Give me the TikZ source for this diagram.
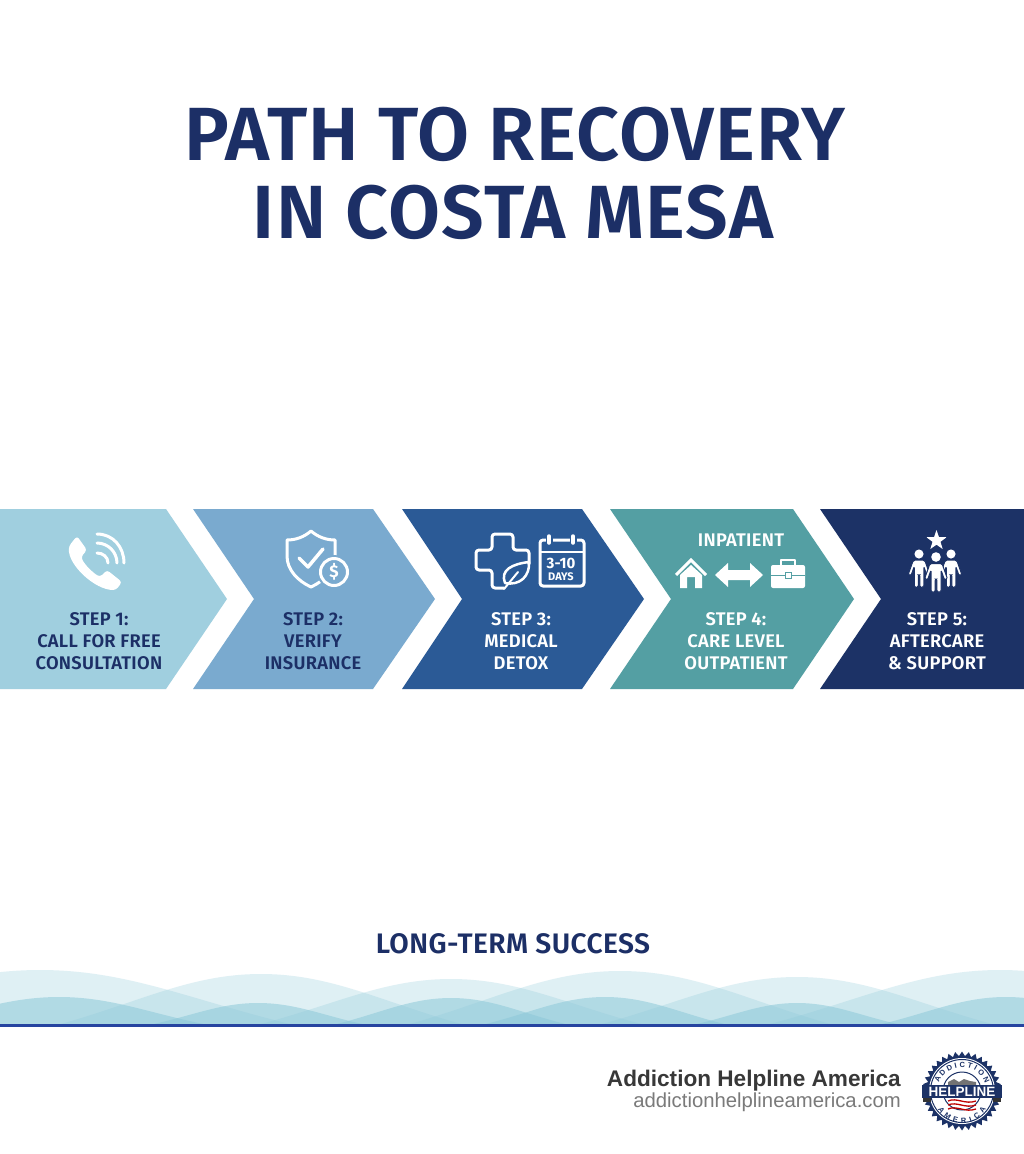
\documentclass[tikz,border=0pt]{standalone}
\usepackage{fontspec}
\setmainfont{Fira Sans}
\newfontfamily\semifont[LetterSpace=1.5]{Fira Sans SemiBold}
\newfontfamily\logofont{Liberation Sans}
\usetikzlibrary{decorations.text}
\definecolor{navy}{HTML}{1C2F66}
\definecolor{stepa}{HTML}{A0CFDF}
\definecolor{stepb}{HTML}{7AAACF}
\definecolor{stepc}{HTML}{2B5A96}
\definecolor{stepd}{HTML}{549FA3}
\definecolor{stepe}{HTML}{1C3266}
\definecolor{waveblue}{HTML}{8CC8D8}
\definecolor{rule}{HTML}{2644A0}
\begin{document}
\begin{tikzpicture}[x=1pt,y=-1pt]
    \tikzset{every node/.style={inner sep=0pt},
            steptext/.style={font=\semifont\fontsize{18.3}{22}\selectfont, align=center},
            icon/.style={draw=white, line width=3pt, line join=round, line cap=round},
            backwave/.style={fill=waveblue, fill opacity=0.27},
            frontwave/.style={fill=waveblue, fill opacity=0.55},
            person/.pic={
                \fill[draw=stepe, line width=1pt, rounded corners=1.5pt] (-6,6.5) -- (6,6.5) -- (11.5,22) -- (8.5,23) -- (5,13) -- (5,35) -- (0.8,35) -- (0.8,22) -- (-0.8,22) -- (-0.8,35) -- (-5,35) -- (-5,13) -- (-8.5,23) -- (-11.5,22) -- cycle;
                \fill (0,0) circle (4.8);
            }}
    \useasboundingbox (0,0) rectangle (1024,1154);
    \fill[white] (0,0) rectangle (1024,1154);

    % title
    \node[anchor=base, text=navy, font=\semifont\fontsize{75.4}{76}\selectfont] (title1) at (515,160) {PATH TO RECOVERY};
    \node[anchor=base, text=navy, font=\semifont\fontsize{75.4}{76}\selectfont] (title2) at (513,238) {IN COSTA MESA};

    % chevrons
    \fill[stepa] (0,509) -- (166,509) -- (227,599) -- (166,689) -- (0,689) -- cycle;
    \fill[stepb] (193,509) -- (373,509) -- (435,599) -- (373,689) -- (193,689) -- (254,599) -- cycle;
    \fill[stepc] (402,509) -- (582,509) -- (644,599) -- (582,689) -- (402,689) -- (462,599) -- cycle;
    \fill[stepd] (610,509) -- (793,509) -- (854,599) -- (793,689) -- (610,689) -- (671,599) -- cycle;
    \fill[stepe] (820,509) -- (1024,509) -- (1024,689) -- (820,689) -- (881,599) -- cycle;

    \node[steptext, text=navy] (step1) at (99,641) {STEP 1:\\CALL FOR FREE\\CONSULTATION};
    \node[steptext, text=navy] (step2) at (313,641) {STEP 2:\\VERIFY\\INSURANCE};
    \node[steptext, text=white] (step3) at (521,641) {STEP 3:\\MEDICAL\\DETOX};
    \node[steptext, text=white] (step4) at (736,641) {STEP 4:\\CARE LEVEL\\OUTPATIENT};
    \node[steptext, text=white] (step5) at (937,641) {STEP 5:\\AFTERCARE\\\& SUPPORT};

    % phone
    \fill[white, rounded corners=3pt] (77,536) -- (87,550) -- (81,557) .. controls (85,565) and (92,572) .. (100,577) -- (107,570) -- (122,582) -- (116,590) .. controls (95,590) and (68,565) .. (69,546) -- cycle;
    \draw[icon] (97,553) .. controls (103,553) and (108,557) .. (108,563);
    \draw[icon] (97,543) .. controls (108,543) and (117,552) .. (117,563);
    \draw[icon] (97,534) .. controls (113,534) and (124,547) .. (124,563);

    % shield
    \draw[icon] (311,531) .. controls (304,537) and (296,540) .. (287,540) -- (287,556) .. controls (287,570) and (298,581) .. (311,587) .. controls (324,581) and (335,570) .. (335,556) -- (335,540) .. controls (326,540) and (318,537) .. (311,531) -- cycle;
    \draw[icon, line width=3.5pt] (299,558) -- (308,567) -- (323,549);
    \fill[stepb] (334,572) circle (17);
    \draw[icon] (334,572) circle (13.5);
    \node[text=white, font=\fontsize{17}{17}\selectfont\bfseries] (coin) at (334,572) {\$};

    % cross and leaf
    \draw[icon, rounded corners=3pt] (504,588) -- (492,588) -- (492,570) -- (476,570) -- (476,550) -- (492,550) -- (492,534) -- (513,534) -- (513,550) -- (529,550) -- (529,564);
    \draw[icon, line width=2.5pt] (505,583) .. controls (500,570) and (512,564) .. (529,562) .. controls (530,576) and (520,586) .. (505,583) -- cycle;
    \draw[icon, line width=2pt] (504,589) -- (518,572);

    % calendar
    \draw[icon, line width=3pt, rounded corners=3pt] (540,540) rectangle (584,586);
    \draw[icon, line width=2pt] (540,552) -- (584,552);
    \draw[draw=stepc, line width=7pt, line cap=round] (549,536) -- (549,543) (573,536) -- (573,543);
    \draw[icon, line width=3.5pt] (549,536) -- (549,543) (573,536) -- (573,543);
    \node[text=white, font=\fontsize{15}{15}\selectfont\bfseries] (days1) at (561,563) {3-10};
    \node[text=white, font=\fontsize{11}{11}\selectfont\bfseries] (days2) at (561,577) {DAYS};

    % inpatient icons
    \node[text=white, font=\semifont\fontsize{18.3}{18.3}\selectfont] (inpatient) at (741,540) {INPATIENT};
    \draw[icon, line width=3pt, line cap=butt, line join=miter] (676,575) -- (691,560) -- (706,575);
    \fill[white] (680,575) -- (691,565) -- (702,575) -- (702,588) -- (695,588) -- (695,577) -- (687,577) -- (687,588) -- (680,588) -- cycle;
    \fill[white] (715,575) -- (728,563) -- (728,570) -- (750,570) -- (750,563) -- (763,575) -- (750,587) -- (750,580) -- (728,580) -- (728,587) -- cycle;
    \fill[white, rounded corners=2pt] (771,565) rectangle (805,588);
    \draw[icon, line width=2pt] (781,565) -- (781,560) -- (795,560) -- (795,565);
    \draw[draw=stepd, line width=1pt] (771,575) -- (785,575) (791,575) -- (805,575);
    \fill[white, draw=stepd, line width=1pt] (785,572) rectangle (791,578);

    % star and people
    \fill[white] (936.5,530) \foreach \a in {1,...,9} {-- ({936.5+(mod(\a,2)==1 ? 4.2 : 10.5)*sin(\a*36)},{540.5-(mod(\a,2)==1 ? 4.2 : 10.5)*cos(\a*36)})} -- cycle;
    \path[fill=white] (919,554) pic[scale=0.95] {person};
    \path[fill=white] (951,554) pic[scale=0.95] {person};
    \path[fill=white] (936,557) pic {person};

    % waves
    \foreach \cx/\cy/\hw in {40/970/250, 261/974/200, 451/979/190, 620/971/210, 797/977/195, 1000/970/230}
        \fill[backwave] (\cx-\hw,1024) .. controls (\cx-0.6*\hw,{1024-0.45*(1024-\cy)}) and (\cx-0.35*\hw,\cy) .. (\cx,\cy) .. controls (\cx+0.35*\hw,\cy) and (\cx+0.6*\hw,{1024-0.45*(1024-\cy)}) .. (\cx+\hw,1024) -- cycle;
    \foreach \cx/\cy/\hw in {59/997/144, 258/1003/104, 451/998/114, 605/997/119, 797/1003/100, 1006/997/124}
        \fill[frontwave] (\cx-\hw,1024) .. controls (\cx-0.6*\hw,{1024-0.45*(1024-\cy)}) and (\cx-0.35*\hw,\cy) .. (\cx,\cy) .. controls (\cx+0.35*\hw,\cy) and (\cx+0.6*\hw,{1024-0.45*(1024-\cy)}) .. (\cx+\hw,1024) -- cycle;
    \fill[rule] (0,1024) rectangle (1024,1027);

    \node[anchor=base, text=navy, font=\semifont\fontsize{28.2}{28}\selectfont] (success) at (513,953) {LONG-TERM SUCCESS};

    % footer
    \node[anchor=base east, text=black!78, font=\logofont\fontsize{22.6}{23}\selectfont\bfseries] (brand) at (901,1086) {Addiction Helpline America};
    \node[anchor=base east, text=black!52, font=\logofont\fontsize{20.3}{20}\selectfont] (site) at (901,1107) {addictionhelplineamerica.com};

    % seal
    \begin{scope}[shift={(962,1091)}]
        \fill[stepe] (0:39.5) \foreach \a in {1,...,71} {-- (\a*5:{mod(\a,2)==1 ? 35 : 39.5})} -- cycle;
        \fill[white] (0,0) circle (33);
        \draw[stepe, line width=1pt] (0,0) circle (31.5);
        \draw[stepe, line width=1pt] (0,0) circle (19);
        \fill[black!55] (-14,-9) -- (-8,-12) -- (-3,-9) -- (2,-12) -- (8,-10) -- (14,-9) -- (14,-6) -- (-14,-6) -- cycle;
        \foreach \dy in {11,15,19}
            \draw[red!75!black, line width=1.3pt] (-14,\dy-1) .. controls (-5,\dy-5) and (3,\dy+3) .. (14,\dy-1);
        \fill[black!80] (-39,6) rectangle (-31,11);
        \fill[black!80] (31,6) rectangle (39,11);
        \fill[stepe] (-40,-6) rectangle (40,7);
        \node[text=white, font=\logofont\fontsize{13.5}{13.5}\selectfont\bfseries] (helpline) at (0,0.5) {HELPLINE};
        \path[postaction={decorate, decoration={text along path, text align={fit to path}, text color=stepe, text={|\logofont\fontsize{7.5}{7.5}\selectfont\bfseries|ADDICTION}}}] (-23,-8) .. controls (-16,-29) and (16,-29) .. (23,-8);
        \path[postaction={decorate, decoration={text along path, text align={fit to path}, text color=stepe, text={|\logofont\fontsize{7.5}{7.5}\selectfont\bfseries|AMERICA}}}] (-24,18) .. controls (-14,37) and (14,37) .. (24,18);
    \end{scope}
\end{tikzpicture}
\end{document}
